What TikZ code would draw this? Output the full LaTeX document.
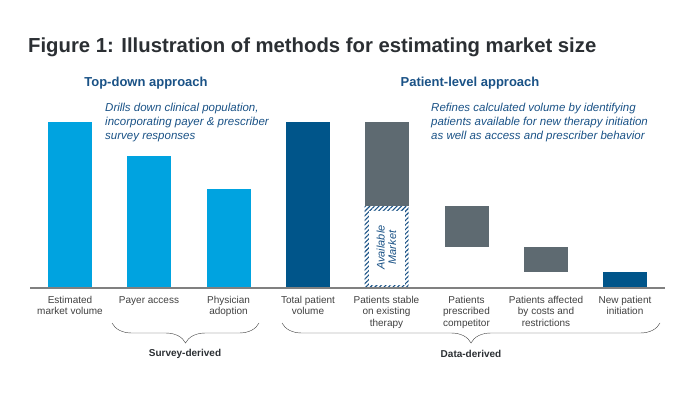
\documentclass[tikz,border=0pt]{standalone}
\usepackage{fontspec}
\setmainfont{Liberation Sans}
\usetikzlibrary{positioning,patterns.meta,decorations.pathreplacing}
\definecolor{lightblue}{HTML}{00A3E0}
\definecolor{darkblue}{HTML}{00558A}
\definecolor{slate}{HTML}{5E6A71}
\definecolor{headblue}{HTML}{1A5286}
\definecolor{titlegray}{HTML}{2B2F33}
\definecolor{textgray}{HTML}{404040}
\tikzset{
	x=1pt, y=-1pt,
	bar/.style={anchor=north, inner sep=0pt, minimum width=44pt},
	lbl/.style={anchor=north, align=center, inner sep=0pt, text=textgray,
		font=\fontsize{10}{11.5}\selectfont},
	head/.style={text=headblue, font=\bfseries\fontsize{13}{15}\selectfont},
	note/.style={anchor=north west, align=left, inner sep=0pt, text=headblue,
		font=\itshape\fontsize{11.5}{14}\selectfont},
	brc/.style={draw=textgray, thin, decorate,
		decoration={brace, mirror, amplitude=20pt}},
	group/.style={text=titlegray, font=\bfseries\fontsize{10}{12}\selectfont},
}

\begin{document}
\begin{tikzpicture}
	\useasboundingbox (0,0) rectangle (700,395);

	\node[anchor=west, inner sep=0pt, text=titlegray,
		font=\bfseries\fontsize{20.3}{24}\selectfont] (title) at (28,47)
		{Figure 1: Illustration of methods for estimating market size};
	\node[head] (topdown) at (146,83) {Top-down approach};
	\node[head] (patient) at (470,83) {Patient-level approach};
	\node[note] (dnote) at (105,103) {Drills down clinical population,\\
		incorporating payer \& prescriber\\survey responses};
	\node[note] (pnote) at (431,103) {Refines calculated volume by identifying\\
		patients available for new therapy initiation\\as well as access and prescriber behavior};

	% bars
	\node[bar, fill=lightblue, minimum height=166pt] (b1) at (70,122) {};
	\node[bar, fill=lightblue, minimum height=132pt] (b2) at (149,156) {};
	\node[bar, fill=lightblue, minimum height=99pt]  (b3) at (228.5,189) {};
	\node[bar, fill=darkblue, minimum height=166pt]  (b4) at (308,122) {};
	\node[bar, fill=slate, minimum height=84pt]      (b5) at (386.5,122) {};
	\node[bar, minimum height=82pt, pattern color=headblue,
		pattern={Lines[angle=45, distance=3.2pt, line width=1.1pt]}] (avail) at (386.5,206) {};
	\node[fill=white, inner sep=0pt, minimum width=74pt, minimum height=36pt,
		text=headblue, align=center, rotate=90,
		font=\itshape\fontsize{11}{11.5}\selectfont] (availtxt) at (avail.center) {Available\\Market};
	\node[bar, fill=slate, minimum height=41pt]      (b6) at (466.5,206) {};
	\node[bar, fill=slate, minimum height=25pt]      (b7) at (546,247) {};
	\node[bar, fill=darkblue, minimum height=16pt]   (b8) at (625,272) {};

	% axis
	\coordinate (axl) at (30,288);
	\coordinate (axr) at (665,288);
	\draw[draw=gray, line width=1.2pt] (axl) -- (axr);

	% labels
	\node[lbl] (l1) at (70,296) {Estimated\\market volume};
	\node[lbl] (l2) at (149,296) {Payer access};
	\node[lbl] (l3) at (228.5,296) {Physician\\adoption};
	\node[lbl] (l4) at (308,296) {Total patient\\volume};
	\node[lbl] (l5) at (386.5,296) {Patients stable\\on existing\\therapy};
	\node[lbl] (l6) at (466.5,296) {Patients\\prescribed\\competitor};
	\node[lbl] (l7) at (546,296) {Patients affected\\by costs and\\restrictions};
	\node[lbl] (l8) at (625,296) {New patient\\initiation};

	% braces
	\coordinate (s1) at (112,323);
	\coordinate (s2) at (259,323);
	\coordinate (d1) at (282,323);
	\coordinate (d2) at (660,323);
	\draw[brc] (s1) -- (s2);
	\draw[brc] (d1) -- (d2);
	\node[group] (survey) at (185,354) {Survey-derived};
	\node[group] (data) at (471,354) {Data-derived};
\end{tikzpicture}
\end{document}
